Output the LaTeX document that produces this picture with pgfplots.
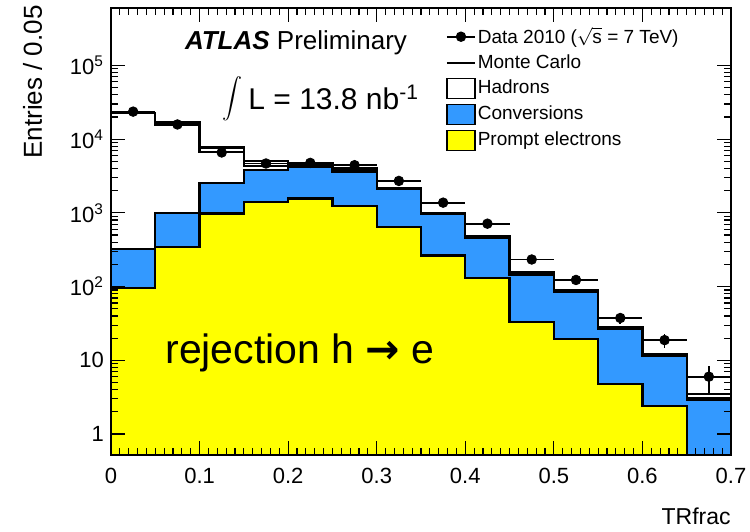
\documentclass[border=0pt]{standalone}
\usepackage{fontspec}
\setmainfont{Liberation Sans}
\newfontfamily\dejavu{DejaVu Sans}
\usepackage{pgfplots}
\pgfplotsset{compat=1.18}
\definecolor{conv}{HTML}{3399FF}
\definecolor{prompt}{HTML}{FFFF00}

\begin{document}
\begin{tikzpicture}
% histograms and data
\begin{axis}[at={(0,0)}, anchor=south west,
    width=310pt, height=223.5pt, scale only axis,
    xmin=0, xmax=0.7, ymode=log, ymin=0.52, ymax=6e5, hide axis]
  % hadrons (total stack)
  \addplot[const plot mark left, fill=white, draw=black, line width=1.2pt, forget plot] coordinates {
    (0,0.1) (0,22800) (0.05,15800) (0.1,6720) (0.15,4290) (0.2,4450) (0.25,3800) (0.3,2120)
    (0.35,990) (0.4,465) (0.45,150) (0.5,88) (0.55,27.5) (0.6,11.7) (0.65,3.05) (0.7,3.05) (0.7,0.1)};
  % conversions + prompt
  \addplot[const plot mark left, fill=conv, draw=black, line width=1.2pt, forget plot] coordinates {
    (0,0.1) (0,326) (0.05,1000) (0.1,2540) (0.15,3800) (0.2,4250) (0.25,3650) (0.3,2090)
    (0.35,975) (0.4,454) (0.45,146) (0.5,84) (0.55,27) (0.6,11.5) (0.65,2.96) (0.7,2.96) (0.7,0.1)};
  % prompt electrons
  \addplot[const plot mark left, fill=prompt, draw=black, line width=1.2pt, forget plot] coordinates {
    (0,0.1) (0,96) (0.05,343) (0.1,975) (0.15,1400) (0.2,1560) (0.25,1240) (0.3,641)
    (0.35,265) (0.4,130) (0.45,33.4) (0.5,19.6) (0.55,4.8) (0.6,2.4) (0.65,0.1) (0.7,0.1)};
  % monte carlo line
  \addplot[const plot mark left, black, line width=1.2pt, forget plot] coordinates {
    (0,22800) (0.05,17000) (0.1,7700) (0.15,5020) (0.2,4760) (0.25,4060) (0.3,2150)
    (0.35,1000) (0.4,480) (0.45,156) (0.5,90) (0.55,28) (0.6,12) (0.65,3.47) (0.7,3.47)};
  % data
  \addplot[only marks, mark=*, mark size=2.4pt, black, forget plot,
    error bars/.cd, x dir=both, x explicit, y dir=both, y explicit,
    error mark=none, error bar style={line width=0.9pt, black}] coordinates {
    (0.025,23600) +- (0.025,154)
    (0.075,15800) +- (0.025,126)
    (0.125,6590) +- (0.025,81)
    (0.175,4670) +- (0.025,68)
    (0.225,4760) +- (0.025,69)
    (0.275,4430) +- (0.025,67)
    (0.325,2710) +- (0.025,52)
    (0.375,1375) +- (0.025,37)
    (0.425,713) +- (0.025,27)
    (0.475,233) +- (0.025,15)
    (0.525,123) +- (0.025,11)
    (0.575,37.5) +- (0.025,6.1)
    (0.625,18.8) +- (0.025,4.3)
    (0.675,6.0) +- (0.025,2.45)};
\end{axis}
% frame, ticks and legend on top
\begin{axis}[at={(0,0)}, anchor=south west,
    width=310pt, height=223.5pt, scale only axis,
    xmin=0, xmax=0.7, ymode=log, ymin=0.52, ymax=6e5,
    xtick={0,0.1,0.2,0.3,0.4,0.5,0.6,0.7},
    xticklabels={0,0.1,0.2,0.3,0.4,0.5,0.6,0.7},
    minor x tick num=9,
    ytick={1,10,100,1000,10000,100000},
    yticklabels={1,10,10\textsuperscript{2},10\textsuperscript{3},10\textsuperscript{4},10\textsuperscript{5}},
    tick label style={font=\fontsize{11}{13}\selectfont},
    xticklabel style={yshift=-3pt},
    tick align=inside, xtick pos=both, ytick pos=both,
    major tick length=7pt, minor tick length=3.5pt,
    tick style={black, line width=0.6pt},
    axis line style={line width=0.9pt},
    legend style={at={(0.54,0.962)}, anchor=north west, draw=none, fill=none,
      font=\fontsize{9.5}{11}\selectfont, inner sep=0pt, row sep=2.2pt,
      nodes={inner sep=1pt}, cells={anchor=west}},
  ]
  \addlegendimage{legend image code/.code={\draw[black,line width=0.8pt] (0pt,0pt)--(14pt,0pt); \fill[black] (7pt,0pt) circle (2.4pt);}}
  \addlegendentry{Data 2010 ($\sqrt{\mbox{s}}$ = 7 TeV)}
  \addlegendimage{legend image code/.code={\draw[black,line width=0.8pt] (0pt,0pt)--(14pt,0pt);}}
  \addlegendentry{Monte Carlo}
  \addlegendimage{legend image code/.code={\draw[black,line width=0.8pt,fill=white] (0pt,-5pt) rectangle (14pt,5pt);}}
  \addlegendentry{Hadrons}
  \addlegendimage{legend image code/.code={\draw[black,line width=0.8pt,fill=conv] (0pt,-5pt) rectangle (14pt,5pt);}}
  \addlegendentry{Conversions}
  \addlegendimage{legend image code/.code={\draw[black,line width=0.8pt,fill=prompt] (0pt,-5pt) rectangle (14pt,5pt);}}
  \addlegendentry{Prompt electrons}
\end{axis}
\node[font=\fontsize{13}{15}\selectfont] at (92.5pt,206pt) {\textbf{\textit{ATLAS}} Preliminary};
\node[font=\fontsize{14}{17}\selectfont] at (60.5pt,178pt) {$\displaystyle\int$};
\node[font=\fontsize{15}{18}\selectfont, anchor=base west, inner sep=0pt] at (68.5pt,172.5pt) {L = 13.8 nb\textsuperscript{-1}};
\node[font=\fontsize{20.5}{24}\selectfont, anchor=base west, inner sep=0pt] at (27pt,46pt) {rejection h {\dejavu\bfseries →} e};
\node[font=\fontsize{13}{15}\selectfont, rotate=90, anchor=base east, inner sep=0pt] at (-34.5pt,225pt) {Entries / 0.05};
\node[font=\fontsize{11.5}{13}\selectfont, anchor=base east, inner sep=0pt] at (310pt,-34.5pt) {TRfrac};
\pgfresetboundingbox
\path[use as bounding box] (-55.5pt,-38pt) rectangle (319.5pt,227.5pt);
\end{tikzpicture}
\end{document}
